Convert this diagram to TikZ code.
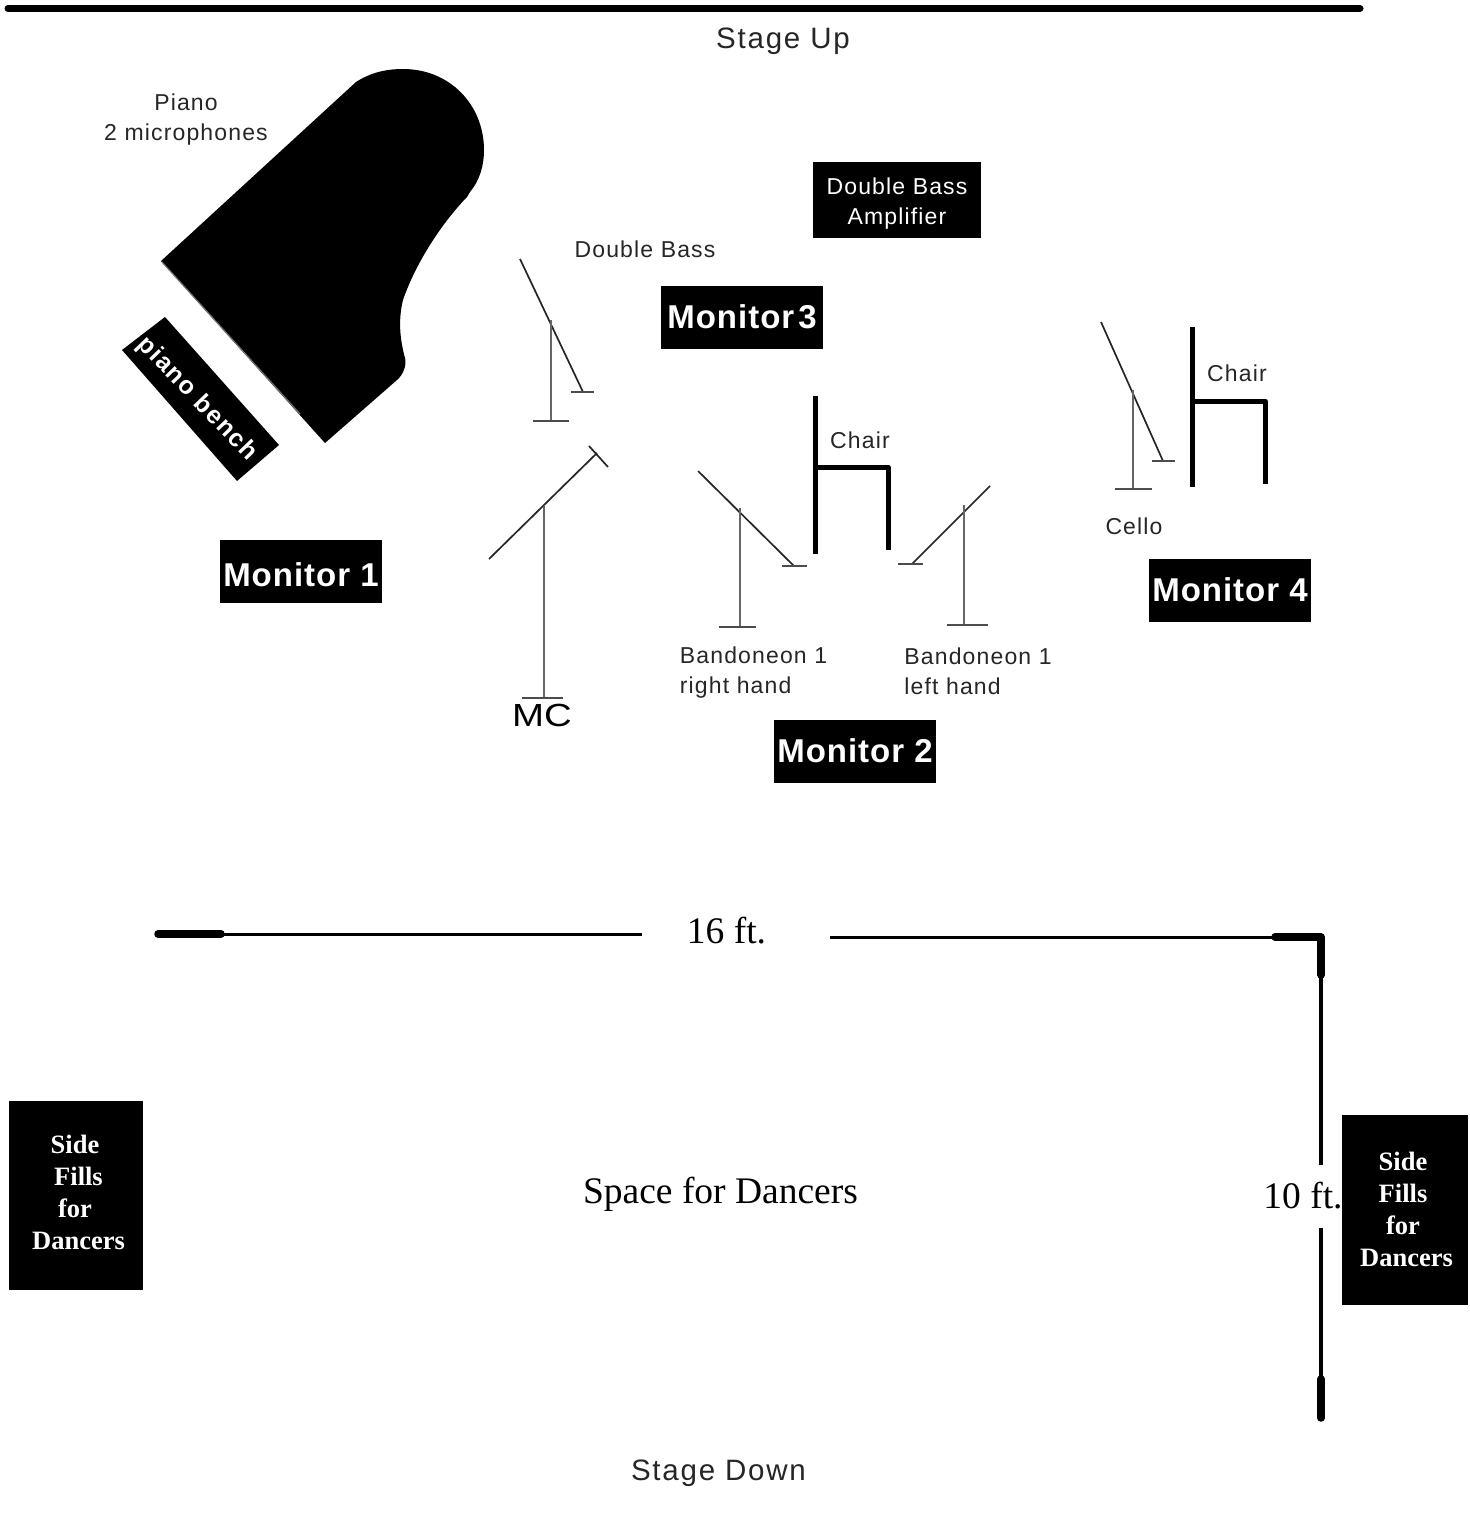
\documentclass[tikz,border=0pt]{standalone}
\usepackage{fontspec}
\setmainfont{Liberation Serif}
\newfontfamily\lab[LetterSpace=6]{Liberation Sans}
\newfontfamily\labtight[LetterSpace=5]{Liberation Sans}
\newfontfamily\mon[LetterSpace=3]{Liberation Sans}
\newfontfamily\mcf[FakeStretch=1.2]{Liberation Sans}
\begin{document}
\begin{tikzpicture}[x=1pt,y=-1pt,line join=round,
  big/.style={font=\lab\fontsize{29.5}{34}\selectfont,inner sep=0pt,align=left,text=black!85},
  lbl/.style={font=\labtight\fontsize{23}{30}\selectfont,inner sep=0pt,align=left,text=black!85},
  monbox/.style={fill=black,text=white,font=\mon\bfseries\fontsize{33}{36}\selectfont,minimum width=162pt,minimum height=63pt,inner sep=0pt},
  sidebox/.style={fill=black,text=white,font=\bfseries\fontsize{26.5}{32}\selectfont,inner sep=0pt,align=center},
  serif/.style={font=\fontsize{37.5}{40}\selectfont,inner sep=0pt},
  stand/.style={draw=black!60,line width=2.4pt},
  boom/.style={draw=black!85,line width=1.7pt},
  base/.style={draw=black!70,line width=1.8pt},
  chair/.style={draw=black,line width=5pt},
  dim/.style={draw=black,line width=3pt},
  dimv/.style={draw=black,line width=3.6pt},
  dimend/.style={draw=black,line width=7.5pt,line cap=round}]
\useasboundingbox (0,0) rectangle (1469,1522);
\fill[white] (0,0) rectangle (1469,1522);
\draw[line width=7pt,line cap=round] (8,8.5) -- (1360,8.5);
\node[big] (stageup) at (783,41) {Stage Up};
\node[big] (stagedown) at (718.5,1473) {Stage Down};
% piano
\fill (161,261) -- (356,82) .. controls (370,73) and (385,69) .. (403,69)
  .. controls (450,69) and (484,105) .. (484,150)
  .. controls (484,165) and (480,180) .. (470,192) -- (467,197)
  .. controls (440,225) and (415,265) .. (403,300)
  .. controls (398,320) and (400,340) .. (405,358)
  .. controls (407,365) and (403,375) .. (397,380) -- (325,443) -- cycle;
\draw[black!55,line width=1.2pt] (162,262) -- (300,414);
\node[lbl,align=center] (piano) at (186,120) {Piano\\[0pt]2 microphones};
\fill (122,350) -- (165,317) -- (279,445) -- (237,481) -- cycle;
\node[rotate=-46,font=\lab\bfseries\fontsize{25}{28}\selectfont,text=white,inner sep=0pt] (bench) at (197,399) {piano bench};
% monitors
\node[monbox] (m1) at (301,571) {\rule{0pt}{32pt}Monitor 1};
\node[monbox] (m2) at (855,751) {Monitor 2};
\node[monbox] (m3) at (742,317) {Monitor\hspace{4pt}3};
\node[monbox] (m4) at (1230,590) {Monitor 4};
\node[fill=black,text=white,font=\labtight\fontsize{23}{30}\selectfont,align=center,minimum width=168pt,minimum height=76pt,inner sep=0pt] (amp) at (897,200) {\rule{0pt}{23pt}Double Bass\\Amplifier};
% labels
\node[lbl] (db) at (645,249) {Double Bass};
\node[lbl] (chair1) at (860,440) {Chair};
\node[lbl] (chair2) at (1237,373) {Chair};
\node[lbl] (cello) at (1134,526) {Cello};
\node[lbl] (brh) at (753.5,673) {Bandoneon 1\\[0pt]right hand};
\node[lbl] (blh) at (978,671) {Bandoneon 1\\[0pt]left hand};
\node[font=\mcf\fontsize{32}{36}\selectfont,inner sep=0pt] (mc) at (542,715) {MC};
% double bass mic
\draw[boom] (520,259) -- (583,392);
\draw[base] (571,392) -- (594,392);
\draw[stand] (551,320) -- (551,421);
\draw[base] (533,421) -- (569,421);
% MC mic
\draw[boom] (489,559) -- (597,453);
\draw[boom] (589,446) -- (608,467);
\draw[stand] (544,506) -- (544,698);
\draw[base] (522,698) -- (563,698);
% bandoneon rh
\draw[boom] (698,471) -- (794,566);
\draw[base] (782,566) -- (807,566);
\draw[stand] (740,508) -- (740,627);
\draw[base] (719,627) -- (756,627);
% bandoneon lh
\draw[boom] (990,486) -- (912,564);
\draw[base] (898,564) -- (923,564);
\draw[stand] (964,505) -- (964,625);
\draw[base] (947,625) -- (988,625);
% cello
\draw[boom] (1101,322) -- (1163,461);
\draw[base] (1152,461) -- (1175,461);
\draw[stand] (1133,390) -- (1133,489);
\draw[base] (1115,489) -- (1152,489);
% chairs
\draw[chair] (815,396) -- (815,554);
\draw[chair] (815,467) -- (888,467) -- (888,550);
\draw[chair] (1192,327) -- (1192,487);
\draw[chair] (1192,401) -- (1265,401) -- (1265,484);
% dims
\node[serif] (w) at (726.5,931) {16 ft.};
\coordinate (wl) at (155,934);
\coordinate (wr) at (1321,937);
\draw[dim] (wl) -- (642,934);
\draw[dim] (830,937) -- (wr);
\draw[dimend] (158,934) -- (221,934);
\draw[dimend] (1275,937) -- (wr) -- (1321,975);
\node[serif] (h) at (1303,1196) {10 ft.};
\draw[dimv] (wr) -- (1321,1165);
\draw[dimv] (1321,1228) -- (1321,1420);
\draw[dimend] (1321,1379) -- (1321,1418);
\node[serif] (space) at (720.5,1194) {Space for Dancers};
% side fills
\node[sidebox,minimum width=134pt,minimum height=189pt] (s1) at (76,1195.5) {};
\node[sidebox,anchor=center] (s1t) at (75,1192) {Side\\\hspace{7pt}Fills\\for\\\hspace{7pt}Dancers};
\node[sidebox,minimum width=126pt,minimum height=190pt] (s2) at (1405,1210) {};
\node[sidebox,anchor=center] (s2t) at (1403,1209) {Side\\Fills\\for\\\hspace{7pt}Dancers};
\end{tikzpicture}
\end{document}
